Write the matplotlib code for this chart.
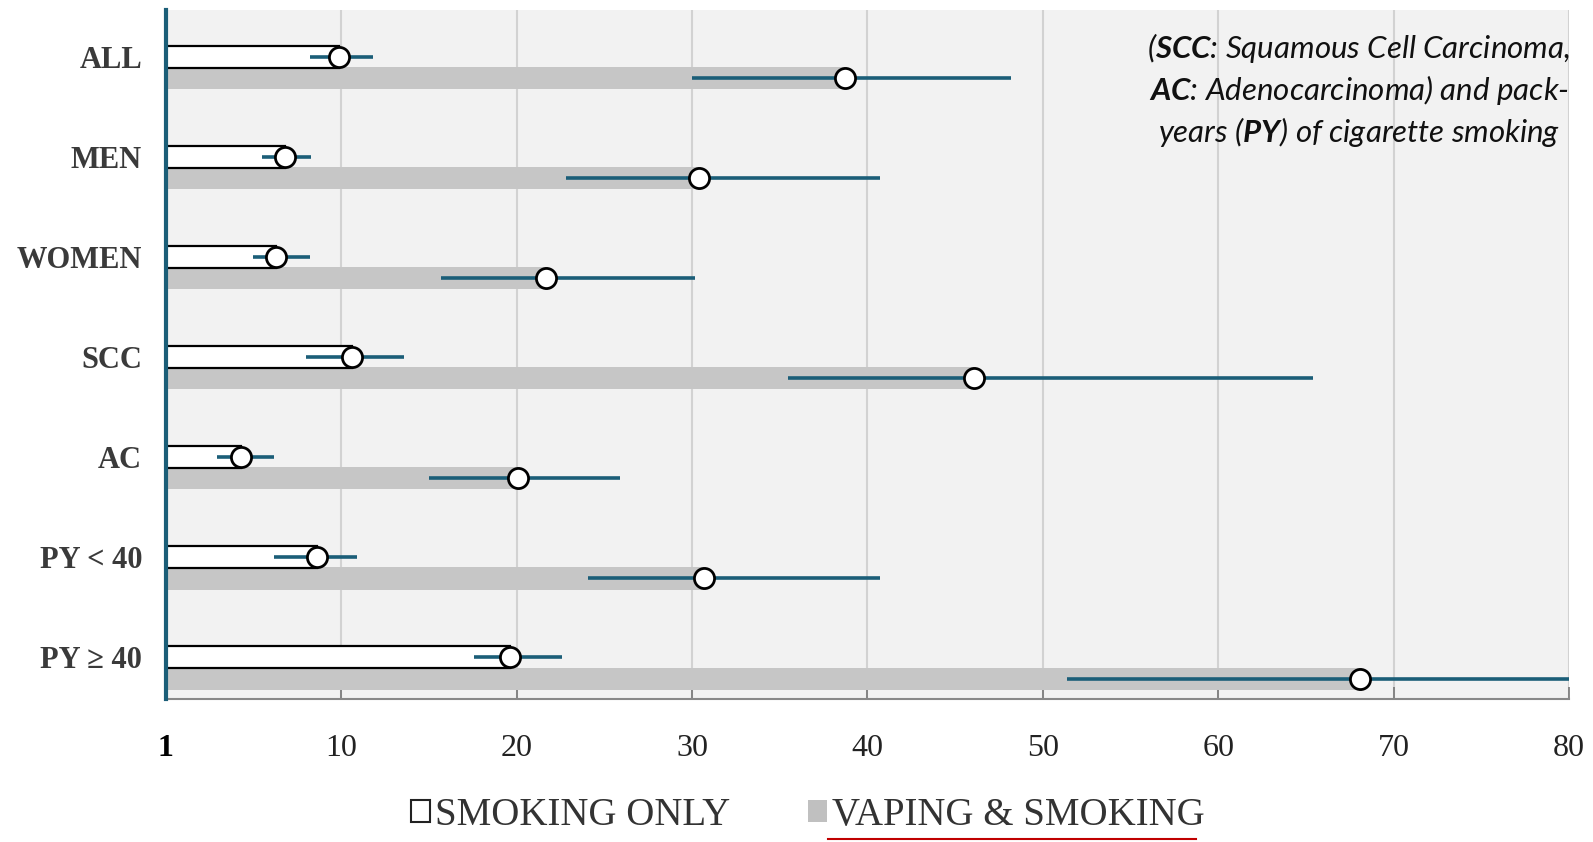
import numpy as np
import matplotlib.pyplot as plt
from matplotlib.patches import Patch
from matplotlib.lines import Line2D

plt.rcParams['mathtext.fontset'] = 'custom'
plt.rcParams['mathtext.rm'] = 'Lato:italic'
plt.rcParams['mathtext.it'] = 'Lato:italic'
plt.rcParams['mathtext.bf'] = 'Lato:italic:bold'

# datos (odds ratio)
grupos = ["ALL", "MEN", "WOMEN", "SCC", "AC", "PY < 40", "PY \u2265 40"]
smoking = [9.9, 6.8, 6.3, 10.6, 4.3, 8.6, 19.6]
smoking_lo = [8.2, 5.5, 5.0, 8.0, 2.9, 6.2, 17.6]
smoking_hi = [11.8, 8.3, 8.2, 13.6, 6.2, 10.9, 22.6]
vaping = [38.7, 30.4, 21.7, 46.1, 20.1, 30.7, 68.1]
vaping_lo = [30.0, 22.8, 15.7, 35.5, 15.0, 24.1, 51.4]
vaping_hi = [48.2, 40.7, 30.2, 65.4, 25.9, 40.7, 80.0]
xticks = [0, 10, 20, 30, 40, 50, 60, 70, 80]
xlabels = ["1", "10", "20", "30", "40", "50", "60", "70", "80"]

azul = '#1b5e78'
y = np.arange(len(grupos))
h = 0.22
y_s = y - 0.107
y_v = y + 0.107

fig = plt.figure(figsize=(15.93, 8.42), dpi=100)
ax = fig.add_axes([0.104, 0.170, 0.881, 0.818])
ax.set_facecolor('#f2f2f2')

ax.barh(y_v, vaping, height=h, color='#c6c6c6', zorder=2)
ax.barh(y_s, smoking, height=h, color='white', edgecolor='black', linewidth=1.6, zorder=3)

ax.hlines(y_s, smoking_lo, smoking_hi, color=azul, linewidth=2.6, zorder=4)
ax.hlines(y_v, vaping_lo, vaping_hi, color=azul, linewidth=2.6, zorder=4)
ax.plot(smoking, y_s, 'o', ms=14.5, mfc='white', mec='black', mew=2, zorder=5)
ax.plot(vaping, y_v, 'o', ms=14.5, mfc='white', mec='black', mew=2, zorder=5)

ax.set_xlim(0, 80)
ax.set_ylim(6.31, -0.574)
ax.set_xticks(xticks)
ax.set_xticklabels(xlabels, fontfamily='Liberation Serif', fontsize=23, color='#222222')
ax.get_xticklabels()[0].set_fontweight('bold')
ax.get_xticklabels()[0].set_color('black')
ax.set_yticks(y_s)
ax.set_yticklabels(grupos, fontfamily='Liberation Serif', fontweight='bold',
                   fontsize=22, color='#3a3a3a')
ax.tick_params(axis='y', length=0, pad=17)
ax.tick_params(axis='x', direction='in', length=9, width=1.2, color='#777777', pad=25)

ax.grid(axis='x', color='#d2d2d2', linewidth=1.5, zorder=0)
ax.set_axisbelow(True)
for s in ['top', 'right']:
    ax.spines[s].set_visible(False)
ax.spines['left'].set_color(azul)
ax.spines['left'].set_linewidth(3)
ax.spines['left'].set_zorder(6)
ax.spines['bottom'].set_color('#888888')
ax.spines['bottom'].set_linewidth(1.5)

nota = ("($\\mathbf{SCC}$: Squamous Cell Carcinoma,\n"
        "$\\mathbf{AC}$: Adenocarcinoma) and pack-\n"
        "years ($\\mathbf{PY}$) of cigarette smoking")
fig.text(0.853, 0.893, nota, ha='center', va='center', fontfamily='Lato',
         fontstyle='italic', fontsize=22.5, color='#111111', linespacing=1.3)

handles = [Patch(facecolor='white', edgecolor='#222222', linewidth=1.5),
           Patch(facecolor='#c0c0c0', edgecolor='none')]
fig.legend(handles, ["SMOKING ONLY", "VAPING & SMOKING"], loc='center',
           bbox_to_anchor=(0.507, 0.032), ncol=2, frameon=False,
           prop={'family': 'Liberation Serif', 'size': 28},
           labelcolor='#333333', handlelength=0.5, handleheight=0.5,
           handletextpad=0.12, columnspacing=2.0)
fig.add_artist(Line2D([0.52, 0.751], [0.004, 0.004], color='#c00000', linewidth=1.5))

plt.savefig('out.png', dpi=100)
